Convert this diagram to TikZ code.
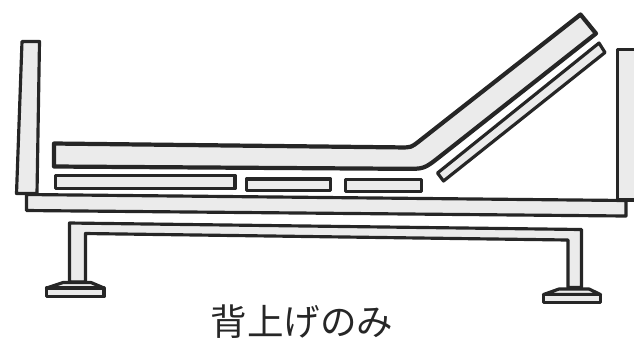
\documentclass[tikz,border=0pt]{standalone}
\usepackage{fontspec}
\newfontfamily\jpfont{Noto Sans CJK JP}

\begin{document}
\begin{tikzpicture}
[
    x=0.02cm, y=-0.02cm,
    part/.style={draw=black!85, fill=black!8, line width=1.8pt, line join=round},
    heavy part/.style={part, line width=2.4pt},
]
\useasboundingbox (0,0) rectangle (634,343);
\clip (0,0) rectangle (634,343);
% frame, head board and foot board
\draw [part] (26.5,194.5) -- (626,200.5) -- (626,216) -- (26.5,210.5) -- cycle;
\draw [part] (22,41.5) -- (39.5,41.5) -- (37,193.5) -- (16.5,193.5) -- cycle;
\draw [part] (617.5,49.5) -- (645,49.5) -- (645,200) -- (617.5,200) -- cycle;
% mattress, bent at the back
\draw [heavy part] (54,143.5) -- (400,147.4) .. controls (411,147.5) .. (419,141.3)
    -- (580.5,14.5) -- (596,33.5) -- (439.7,156.7) .. controls (424,169) .. (404,168.8)
    -- (54,166.5) -- cycle;
% raised back board
\draw [part] (437.5,173) -- (599,43) -- (605,52.5) -- (443.5,181) -- cycle;
% seat boards
\draw [part] (55.5,175.5) rectangle (235,188.5);
\draw [part] (246.5,179) rectangle (330.5,190.5);
\draw [part] (345.5,179.5) rectangle (421.5,191.5);
% base with legs
\draw [part] (69.5,223) -- (581.5,229.5) -- (581.5,287.5) -- (568,287.5) -- (568,240)
    -- (85.5,233.5) -- (85.5,282) -- (69.5,282) -- cycle;
% feet
\draw [part] (63,282.5) -- (91,282.5) -- (104,288) -- (46.5,288) -- cycle;
\draw [part] (46.5,288) rectangle (104,296.5);
\draw [part] (559,289) -- (589,289) -- (600.5,294.5) -- (543.5,294.5) -- cycle;
\draw [part] (543.5,294.5) rectangle (600.5,302.5);
% caption
\node [text=black!85] (caption) at (302,322) {\jpfont\fontsize{20.8}{25}\selectfont 背上げのみ};
\end{tikzpicture}
\end{document}
